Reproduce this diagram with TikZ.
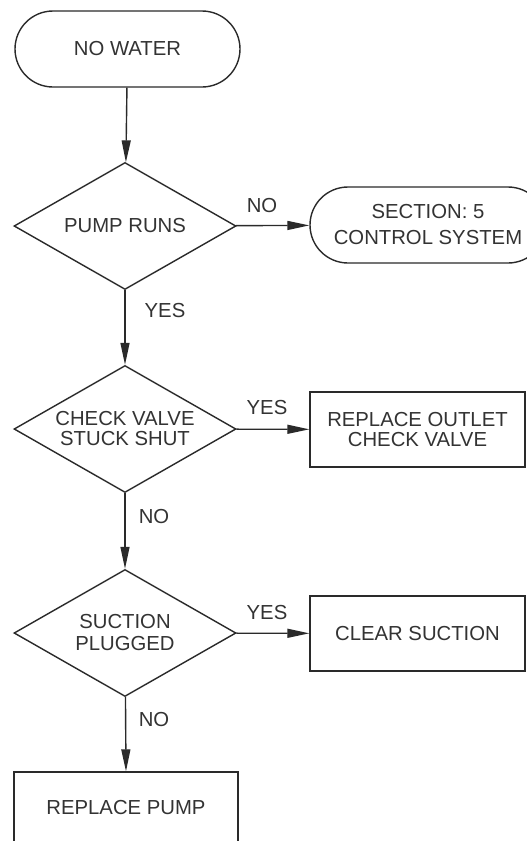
\documentclass[tikz,border=0pt]{standalone}
\usepackage{fontspec}
\setmainfont{Liberation Sans}
\usetikzlibrary{shapes.geometric,shapes.misc,arrows.meta}
\definecolor{ln}{HTML}{2A2A2A}
\definecolor{tx}{HTML}{333333}
\tikzset{
  base/.style={draw=ln, line width=1.4pt, text=tx, align=center, inner sep=0pt,
    font=\fontsize{20.3}{22}\selectfont},
  term/.style={base, rounded rectangle, minimum height=76pt},
  decision/.style={base, diamond, aspect=1.75, minimum width=222pt, minimum height=127pt},
  action/.style={base, rectangle, minimum height=75pt},
  conn/.style={draw=ln, line width=1.4pt, -{Triangle[length=22pt,width=9pt]}},
  lbl/.style={text=tx, inner sep=0pt, font=\fontsize{20.3}{22}\selectfont}
}
\begin{document}
\begin{tikzpicture}[x=1pt,y=-1pt]
\useasboundingbox (0,0) rectangle (527,841);
\clip (0,0) rectangle (527,841);
\fill[white] (0,0) rectangle (527,841);
\node[term, minimum width=225pt] (start) at (127.5,49) {NO WATER};
\node[decision] (d1) at (125,226) {PUMP RUNS};
\node[term, minimum width=236pt] (sec) at (428,225) {SECTION: 5\\[4pt]CONTROL SYSTEM};
\node[decision] (d2) at (125,429) {CHECK VALVE\\[-2pt]STUCK SHUT};
\node[action, minimum width=215pt] (valve) at (417.5,429.5) {REPLACE OUTLET\\[-2pt]CHECK VALVE};
\node[decision] (d3) at (125,633) {SUCTION\\PLUGGED};
\node[action, minimum width=215pt] (clear) at (417.5,633.5) {CLEAR SUCTION};
\node[action, minimum width=224pt, minimum height=72pt] (pump) at (126,808) {REPLACE PUMP};
\draw[conn] (start) -- (d1);
\draw[conn] (d1) -- (sec);
\draw[conn] (d1) -- (d2);
\draw[conn] (d2) -- (valve);
\draw[conn] (d2) -- (d3);
\draw[conn] (d3) -- (clear);
\draw[conn] (d3) -- (pump.north);
\node[lbl] (l1) at (262,206) {NO};
\node[lbl] (l2) at (165,311) {YES};
\node[lbl] (l3) at (267,408) {YES};
\node[lbl] (l4) at (154,517) {NO};
\node[lbl] (l5) at (267,613) {YES};
\node[lbl] (l6) at (154,720) {NO};
\end{tikzpicture}
\end{document}
